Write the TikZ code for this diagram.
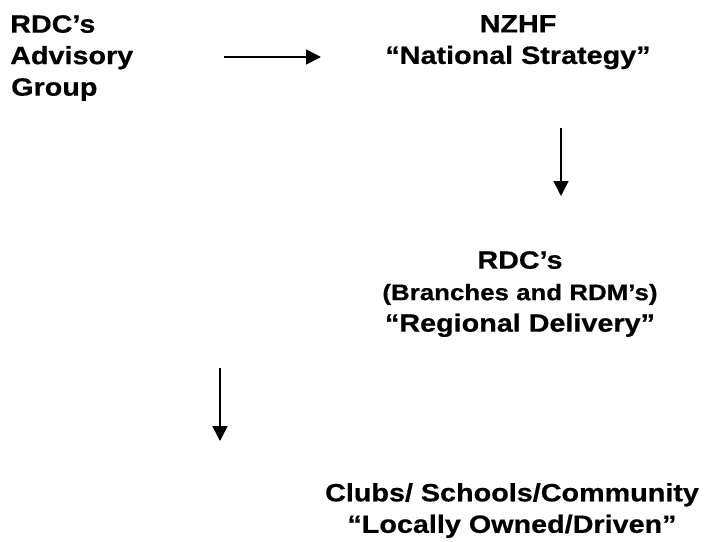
\documentclass[tikz,border=0pt]{standalone}
\usepackage{fontspec}
\setmainfont[FakeStretch=1.15,BoldFeatures={FakeBold=0.6}]{Liberation Sans}
\usepackage{tikz}
\usetikzlibrary{positioning}
\usetikzlibrary{arrows.meta}

\begin{document}
\begin{tikzpicture}[
		x=1pt, y=-1pt,
		every node/.style = {
			inner sep=0pt,
			font=\bfseries\fontsize{25}{31.5}\selectfont
		},
		flow/.style= {
			draw,
			line width=1.6pt,
			-{Triangle[length=15pt,width=15pt]}
		}
		]
		\useasboundingbox (0,0) rectangle (715,541);
		\node[anchor=north west, align=left] (advisory) at (10,15) {RDC’s \\ Advisory \\ \hspace{1pt}Group};
		\node[anchor=north, align=center] (nzhf) at (518,15) {NZHF \\ “National Strategy”};
		\node[anchor=north, align=center] (rdcs) at (520,251) {RDC’s \\ {\fontsize{22.5}{29}\selectfont (Branches and RDM’s)} \\ “Regional Delivery”};
		\node[anchor=north, align=center] (clubs) at (512,483) {Clubs/ Schools/Community \\ “Locally Owned/Driven”};
		% arrow ends
		\coordinate (a1s) at (224,57);
		\coordinate (a1e) at (321,57);
		\coordinate (a2s) at (561,128);
		\coordinate (a2e) at (561,196);
		\coordinate (a3s) at (220,368);
		\coordinate (a3e) at (220,441);
		\draw[flow] (a1s) -- (a1e);
		\draw[flow] (a2s) -- (a2e);
		\draw[flow] (a3s) -- (a3e);
	\end{tikzpicture}
\end{document}
